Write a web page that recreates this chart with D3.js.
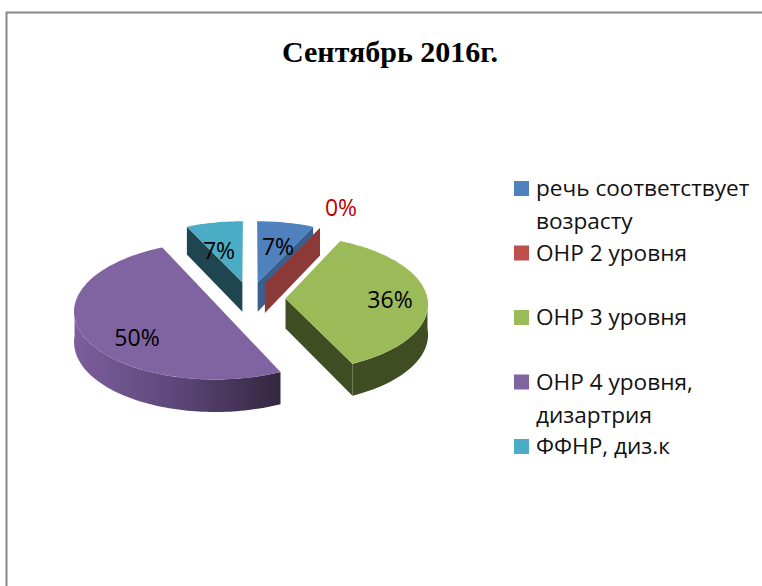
<!DOCTYPE html>
<html>
<head>
<meta charset="utf-8">
<script src="https://cdn.jsdelivr.net/npm/d3@7"></script>
<style>
  html, body { margin: 0; padding: 0; background: #fff; }
  svg { display: block; }
</style>
</head>
<body>
<div id="chart"></div>
<script>
var title = "Сентябрь 2016г.";
var categories = ["речь соответствует возрасту", "ОНР 2 уровня", "ОНР 3 уровня", "ОНР 4 уровня, дизартрия", "ФФНР, диз.к"];
var legendLines = [["речь соответствует", "возрасту"], ["ОНР 2 уровня"], ["ОНР 3 уровня"], ["ОНР 4 уровня,", "дизартрия"], ["ФФНР, диз.к"]];
var values = [7, 0, 36, 50, 7];
var topColors = ["#4f81bd", "#c0504d", "#9bbb59", "#8064a2", "#4bacc6"];
var cutColors = ["#3a5f8c", "#8b3a37", "#404d22", "#33263f", "#1f4550"];
var labelColors = ["#000", "#c00000", "#000", "#000", "#000"];

var width = 762, height = 586;

var svg = d3.select("#chart").append("svg")
    .attr("width", width)
    .attr("height", height);

// frame, only left and top edges are inside the crop
svg.append("path")
    .attr("d", "M6.5,586V12.5H762")
    .attr("fill", "none")
    .attr("stroke", "#868686")
    .attr("stroke-width", 2);

svg.append("text")
    .attr("x", 390).attr("y", 62)
    .attr("text-anchor", "middle")
    .style("font", "bold 30px 'Liberation Serif'")
    .text(title);

// tilted pie: u,v are on the pie plane, h is going down the side
var cx = 250, cy = 298.5, rx = 142, ry = 67.5, depth = 30, persp = 0.07, explode = 0.25;

function project(u, v, h) {
    var s = 1 / (1 - persp * v);
    return [cx + rx * u * s, cy + ry * v * s + h * depth * s];
}

var pie = d3.pie().sort(null).value(function(d) { return d; });
var slices = pie(values).map(function(d, i) {
    var mid = (d.startAngle + d.endAngle) / 2;
    return {
        i: i, a0: d.startAngle, a1: d.endAngle, value: d.value,
        ou: explode * Math.sin(mid),
        ov: -explode * Math.cos(mid)
    };
});

function rim(s, a, h) {
    return project(s.ou + Math.sin(a), s.ov - Math.cos(a), h);
}
function apex(s, h) {
    return project(s.ou, s.ov, h);
}
function arcAngles(a0, a1) {
    var n = Math.max(2, Math.ceil(Math.abs(a1 - a0) * 40));
    return d3.range(n + 1).map(function(k) { return a0 + (a1 - a0) * k / n; });
}
var line = d3.line();

function topFace(s) {
    var pts = [apex(s, 0)].concat(arcAngles(s.a0, s.a1).map(function(a) { return rim(s, a, 0); }));
    return line(pts) + "Z";
}
function cutFace(s, a) {
    return line([apex(s, 0), rim(s, a, 0), rim(s, a, 1), apex(s, 1)]) + "Z";
}
function wallFace(s, a0, a1) {
    var angs = arcAngles(a0, a1);
    var pts = angs.map(function(a) { return rim(s, a, 0); })
        .concat(angs.slice().reverse().map(function(a) { return rim(s, a, 1); }));
    return line(pts) + "Z";
}

// purple wall goes from dark on the right to its own colour on the left
var defs = svg.append("defs");
var grad = defs.append("linearGradient")
    .attr("id", "purple-wall")
    .attr("gradientUnits", "userSpaceOnUse")
    .attr("x1", 75).attr("x2", 282).attr("y1", 0).attr("y2", 0);
grad.selectAll("stop")
    .data([["0%", "#7b5e9c"], ["45%", "#60497d"], ["100%", "#33263f"]])
    .join("stop")
    .attr("offset", function(d) { return d[0]; })
    .attr("stop-color", function(d) { return d[1]; });

var blue = slices[0], red = slices[1], green = slices[2], purple = slices[3], teal = slices[4];
var g = svg.append("g");

// teal
g.append("path").attr("d", cutFace(teal, teal.a0)).attr("fill", cutColors[4]);
g.append("path").attr("d", topFace(teal)).attr("fill", topColors[4]);
// blue, then the empty red slice which is only a cut face
g.append("path").attr("d", cutFace(blue, blue.a1)).attr("fill", cutColors[0]);
g.append("path").attr("d", topFace(blue)).attr("fill", topColors[0]);
g.append("path").attr("d", cutFace(red, red.a0)).attr("fill", cutColors[1]);
// green
g.append("path").attr("d", wallFace(green, Math.PI / 2, green.a1)).attr("fill", "#404d22");
g.append("path").attr("d", cutFace(green, green.a1)).attr("fill", cutColors[2]);
g.append("path").attr("d", topFace(green)).attr("fill", topColors[2]);
// purple
g.append("path").attr("d", wallFace(purple, purple.a0, Math.PI * 1.5)).attr("fill", "url(#purple-wall)");
g.append("path").attr("d", topFace(purple)).attr("fill", topColors[3]);

// data labels
var labelX = d3.scaleOrdinal().domain(categories).range([278, 341, 390, 137, 219]);
var labelY = d3.scaleOrdinal().domain(categories).range([255, 216, 308, 346, 259]);
svg.selectAll(".label")
    .data(values)
    .join("text")
    .attr("class", "label")
    .attr("x", function(d, i) { return labelX(categories[i]); })
    .attr("y", function(d, i) { return labelY(categories[i]); })
    .attr("text-anchor", "middle")
    .attr("fill", function(d, i) { return labelColors[i]; })
    .style("font", "23px 'Open Sans'")
    .text(function(d) { return d + "%"; });

// legend
var legendY = d3.scalePoint().domain(categories).range([181, 439]);
var legend = svg.selectAll(".legend")
    .data(categories)
    .join("g")
    .attr("class", "legend")
    .attr("transform", function(d) { return "translate(514," + legendY(d) + ")"; });
legend.append("rect")
    .attr("width", 15).attr("height", 15)
    .attr("fill", function(d, i) { return topColors[i]; });
legend.append("text")
    .attr("x", 22)
    .attr("y", 15)
    .style("font", "22.6px 'Open Sans'")
    .attr("fill", "#111")
    .selectAll("tspan")
    .data(function(d, i) { return legendLines[i]; })
    .join("tspan")
    .attr("x", 22)
    .attr("dy", function(d, i) { return i ? 33 : 0; })
    .text(function(d) { return d; });
</script>
</body>
</html>
